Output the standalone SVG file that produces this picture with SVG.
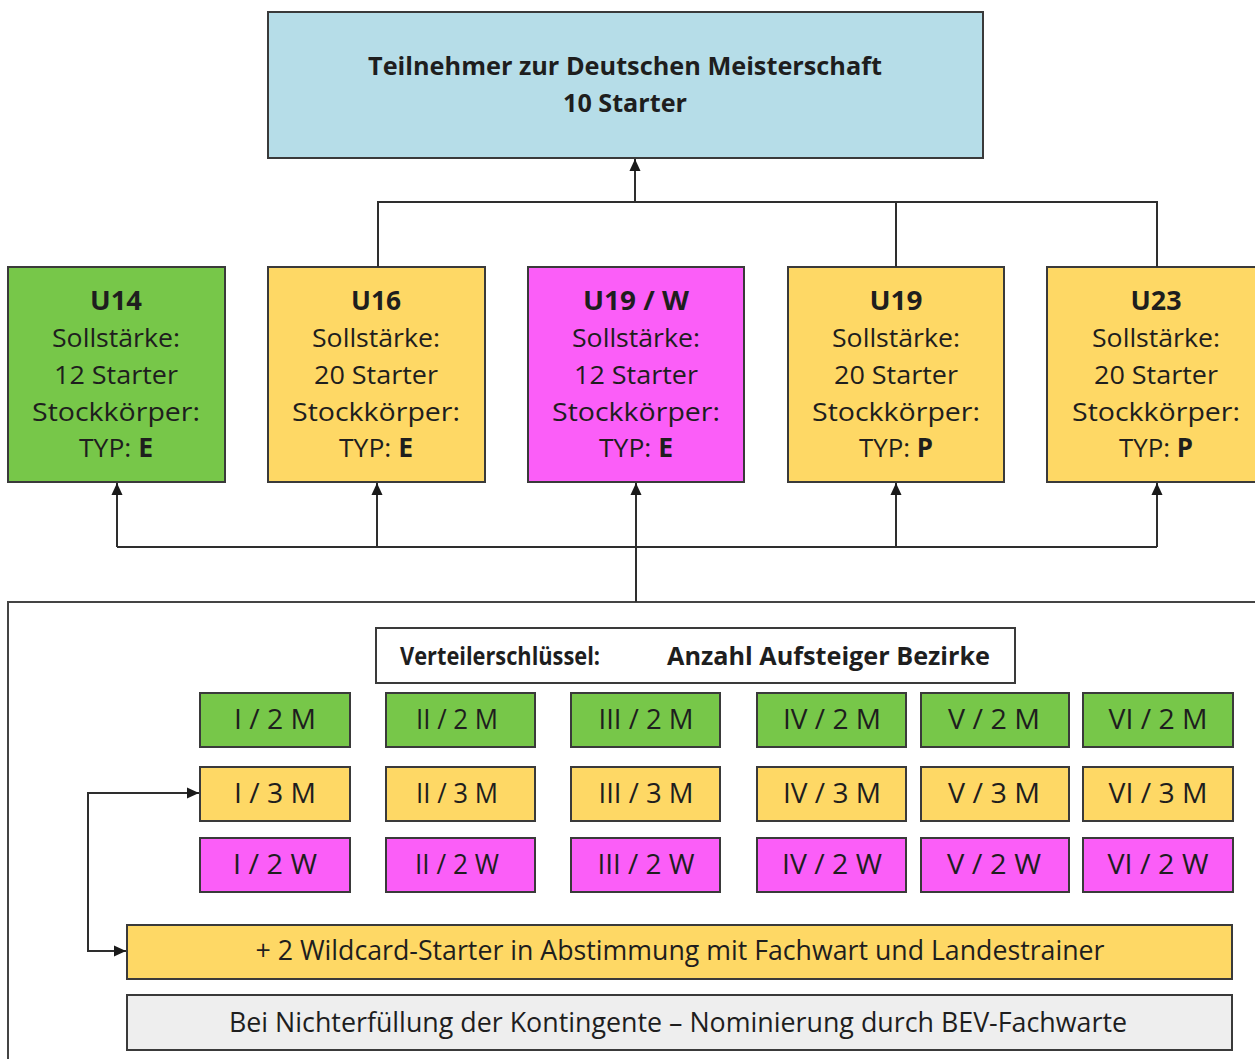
<svg xmlns="http://www.w3.org/2000/svg" width="1255" height="1059" viewBox="0 0 1255 1059">
<style>
.t{font-family:"Open Sans","Liberation Sans",sans-serif;fill:#1e1e1e;text-anchor:middle}
.s{font-family:"Open Sans","Liberation Sans",sans-serif;fill:#1e1e1e}
.b{font-weight:bold}
.n{font-size:26px}
.g{font-size:28px}
.box{stroke:#3a3a3a;stroke-width:2}
.blue{fill:#b6dde8}
.green{fill:#77c749}
.yellow{fill:#fed865}
.mag{fill:#fb5ef8}
.white{fill:#ffffff}
.grey{fill:#eeeeee}
.ln{fill:none;stroke:#2e2e2e;stroke-width:2}
</style>
<defs>
<marker id="ah" markerUnits="userSpaceOnUse" markerWidth="12" markerHeight="13" refX="13" refY="6" orient="auto-start-reverse" viewBox="0 0 13 12">
<path d="M0,0 L13,6 L0,12 z" fill="#1a1a1a"/>
</marker>
</defs>
<rect width="1255" height="1059" fill="#ffffff"/>

<g id="container">
<rect x="8" y="602" width="1262" height="480" fill="none" stroke="#444" stroke-width="2"/>
</g>

<g id="top">
<rect class="box blue" x="268" y="12" width="715" height="146"/>
<text class="t b" x="625" y="75" font-size="25" textLength="514" lengthAdjust="spacingAndGlyphs">Teilnehmer zur Deutschen Meisterschaft</text>
<text class="t b" x="625" y="112" font-size="25" textLength="124" lengthAdjust="spacingAndGlyphs">10 Starter</text>
</g>

<g id="u14">
<rect class="box green" x="8" y="267" width="217" height="215"/>
<text class="t b n" x="116" y="310" textLength="52" lengthAdjust="spacingAndGlyphs">U14</text>
<text class="t n" x="116" y="347" textLength="128" lengthAdjust="spacingAndGlyphs">Sollstärke:</text>
<text class="t n" x="116" y="384" textLength="124" lengthAdjust="spacingAndGlyphs">12 Starter</text>
<text class="t n" x="116" y="421" textLength="168" lengthAdjust="spacingAndGlyphs">Stockkörper:</text>
<text class="t n" x="116" y="457" textLength="74" lengthAdjust="spacingAndGlyphs">TYP: <tspan class="b">E</tspan></text>
</g>

<g id="u16">
<rect class="box yellow" x="268" y="267" width="217" height="215"/>
<text class="t b n" x="376" y="310" textLength="50" lengthAdjust="spacingAndGlyphs">U16</text>
<text class="t n" x="376" y="347" textLength="128" lengthAdjust="spacingAndGlyphs">Sollstärke:</text>
<text class="t n" x="376" y="384" textLength="124" lengthAdjust="spacingAndGlyphs">20 Starter</text>
<text class="t n" x="376" y="421" textLength="168" lengthAdjust="spacingAndGlyphs">Stockkörper:</text>
<text class="t n" x="376" y="457" textLength="74" lengthAdjust="spacingAndGlyphs">TYP: <tspan class="b">E</tspan></text>
</g>

<g id="u19w">
<rect class="box mag" x="528" y="267" width="216" height="215"/>
<text class="t b n" x="636" y="310" textLength="106" lengthAdjust="spacingAndGlyphs">U19 / W</text>
<text class="t n" x="636" y="347" textLength="128" lengthAdjust="spacingAndGlyphs">Sollstärke:</text>
<text class="t n" x="636" y="384" textLength="124" lengthAdjust="spacingAndGlyphs">12 Starter</text>
<text class="t n" x="636" y="421" textLength="168" lengthAdjust="spacingAndGlyphs">Stockkörper:</text>
<text class="t n" x="636" y="457" textLength="74" lengthAdjust="spacingAndGlyphs">TYP: <tspan class="b">E</tspan></text>
</g>

<g id="u19">
<rect class="box yellow" x="788" y="267" width="216" height="215"/>
<text class="t b n" x="896" y="310" textLength="53" lengthAdjust="spacingAndGlyphs">U19</text>
<text class="t n" x="896" y="347" textLength="128" lengthAdjust="spacingAndGlyphs">Sollstärke:</text>
<text class="t n" x="896" y="384" textLength="124" lengthAdjust="spacingAndGlyphs">20 Starter</text>
<text class="t n" x="896" y="421" textLength="168" lengthAdjust="spacingAndGlyphs">Stockkörper:</text>
<text class="t n" x="896" y="457" textLength="74" lengthAdjust="spacingAndGlyphs">TYP: <tspan class="b">P</tspan></text>
</g>

<g id="u23">
<rect class="box yellow" x="1047" y="267" width="217" height="215"/>
<text class="t b n" x="1156" y="310" textLength="51" lengthAdjust="spacingAndGlyphs">U23</text>
<text class="t n" x="1156" y="347" textLength="128" lengthAdjust="spacingAndGlyphs">Sollstärke:</text>
<text class="t n" x="1156" y="384" textLength="124" lengthAdjust="spacingAndGlyphs">20 Starter</text>
<text class="t n" x="1156" y="421" textLength="168" lengthAdjust="spacingAndGlyphs">Stockkörper:</text>
<text class="t n" x="1156" y="457" textLength="74" lengthAdjust="spacingAndGlyphs">TYP: <tspan class="b">P</tspan></text>
</g>

<g id="verteiler">
<rect class="box white" x="376" y="628" width="639" height="55"/>
<text class="s b" x="400" y="665" font-size="25" textLength="200" lengthAdjust="spacingAndGlyphs">Verteilerschlüssel:</text>
<text class="s b" x="667" y="665" font-size="25" textLength="323" lengthAdjust="spacingAndGlyphs">Anzahl Aufsteiger Bezirke</text>
</g>

<g id="row-2m">
<g id="I-2M"><rect class="box green" x="200" y="693" width="150" height="54"/><text class="t g" x="275" y="729" textLength="82" lengthAdjust="spacingAndGlyphs">I / 2 M</text></g>
<g id="II-2M"><rect class="box green" x="386" y="693" width="149" height="54"/><text class="t g" x="457" y="729" textLength="82" lengthAdjust="spacingAndGlyphs">II / 2 M</text></g>
<g id="III-2M"><rect class="box green" x="571" y="693" width="149" height="54"/><text class="t g" x="646" y="729" textLength="95" lengthAdjust="spacingAndGlyphs">III / 2 M</text></g>
<g id="IV-2M"><rect class="box green" x="757" y="693" width="149" height="54"/><text class="t g" x="832" y="729" textLength="98" lengthAdjust="spacingAndGlyphs">IV / 2 M</text></g>
<g id="V-2M"><rect class="box green" x="921" y="693" width="148" height="54"/><text class="t g" x="994" y="729" textLength="92" lengthAdjust="spacingAndGlyphs">V / 2 M</text></g>
<g id="VI-2M"><rect class="box green" x="1083" y="693" width="150" height="54"/><text class="t g" x="1158" y="729" textLength="99" lengthAdjust="spacingAndGlyphs">VI / 2 M</text></g>
</g>

<g id="row-3m">
<g id="I-3M"><rect class="box yellow" x="200" y="767" width="150" height="54"/><text class="t g" x="275" y="803" textLength="82" lengthAdjust="spacingAndGlyphs">I / 3 M</text></g>
<g id="II-3M"><rect class="box yellow" x="386" y="767" width="149" height="54"/><text class="t g" x="457" y="803" textLength="82" lengthAdjust="spacingAndGlyphs">II / 3 M</text></g>
<g id="III-3M"><rect class="box yellow" x="571" y="767" width="149" height="54"/><text class="t g" x="646" y="803" textLength="95" lengthAdjust="spacingAndGlyphs">III / 3 M</text></g>
<g id="IV-3M"><rect class="box yellow" x="757" y="767" width="149" height="54"/><text class="t g" x="832" y="803" textLength="98" lengthAdjust="spacingAndGlyphs">IV / 3 M</text></g>
<g id="V-3M"><rect class="box yellow" x="921" y="767" width="148" height="54"/><text class="t g" x="994" y="803" textLength="92" lengthAdjust="spacingAndGlyphs">V / 3 M</text></g>
<g id="VI-3M"><rect class="box yellow" x="1083" y="767" width="150" height="54"/><text class="t g" x="1158" y="803" textLength="99" lengthAdjust="spacingAndGlyphs">VI / 3 M</text></g>
</g>

<g id="row-2w">
<g id="I-2W"><rect class="box mag" x="200" y="838" width="150" height="54"/><text class="t g" x="275" y="874" textLength="84" lengthAdjust="spacingAndGlyphs">I / 2 W</text></g>
<g id="II-2W"><rect class="box mag" x="386" y="838" width="149" height="54"/><text class="t g" x="457" y="874" textLength="84" lengthAdjust="spacingAndGlyphs">II / 2 W</text></g>
<g id="III-2W"><rect class="box mag" x="571" y="838" width="149" height="54"/><text class="t g" x="646" y="874" textLength="97" lengthAdjust="spacingAndGlyphs">III / 2 W</text></g>
<g id="IV-2W"><rect class="box mag" x="757" y="838" width="149" height="54"/><text class="t g" x="832" y="874" textLength="100" lengthAdjust="spacingAndGlyphs">IV / 2 W</text></g>
<g id="V-2W"><rect class="box mag" x="921" y="838" width="148" height="54"/><text class="t g" x="994" y="874" textLength="94" lengthAdjust="spacingAndGlyphs">V / 2 W</text></g>
<g id="VI-2W"><rect class="box mag" x="1083" y="838" width="150" height="54"/><text class="t g" x="1158" y="874" textLength="101" lengthAdjust="spacingAndGlyphs">VI / 2 W</text></g>
</g>

<g id="wildcard">
<rect class="box yellow" x="127" y="925" width="1105" height="54"/>
<text class="t" x="680" y="960" font-size="27" textLength="849" lengthAdjust="spacingAndGlyphs">+ 2 Wildcard-Starter in Abstimmung mit Fachwart und Landestrainer</text>
</g>

<g id="nominierung">
<rect class="box grey" x="127" y="995" width="1105" height="55"/>
<text class="t" x="678" y="1032" font-size="27" textLength="898" lengthAdjust="spacingAndGlyphs">Bei Nichterfüllung der Kontingente – Nominierung durch BEV-Fachwarte</text>
</g>

<g id="connectors">
<path class="ln" d="M635,202 V159" marker-end="url(#ah)"/>
<path class="ln" d="M378,267 V202 H1157 V267"/>
<path class="ln" d="M896,202 V267"/>
<path class="ln" d="M117,547 H1157"/>
<path class="ln" d="M117,547 V483" marker-end="url(#ah)"/>
<path class="ln" d="M377,547 V483" marker-end="url(#ah)"/>
<path class="ln" d="M896,547 V483" marker-end="url(#ah)"/>
<path class="ln" d="M1157,547 V483" marker-end="url(#ah)"/>
<path class="ln" d="M636,602 V483" marker-end="url(#ah)"/>
<path class="ln" d="M199,793 H88 V951 H126" marker-start="url(#ah)" marker-end="url(#ah)"/>
</g>
</svg>
